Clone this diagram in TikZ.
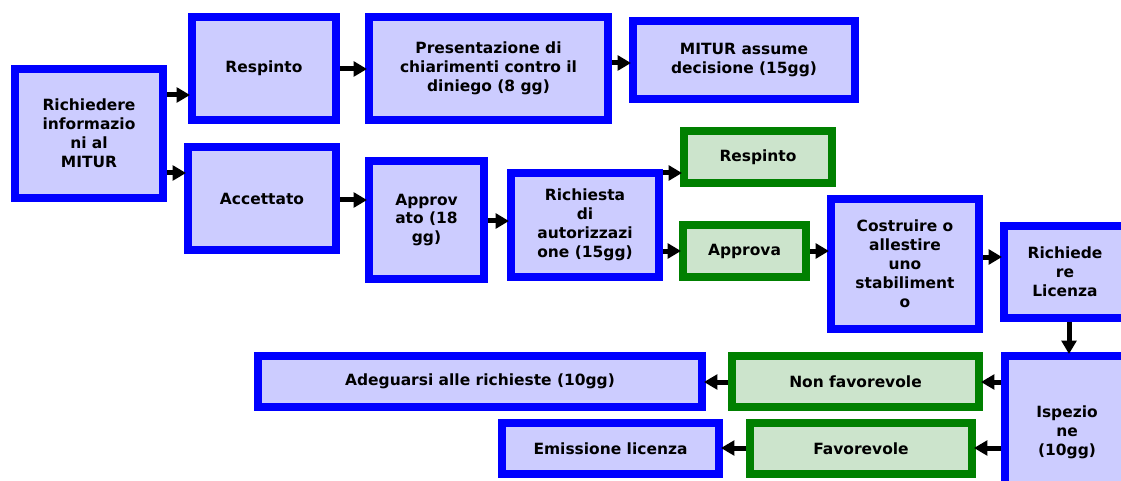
\documentclass[tikz,border=0pt]{standalone}
\usepackage{fontspec}
\setmainfont{DejaVu Sans}
\usetikzlibrary{arrows.meta}
\definecolor{bluefill}{HTML}{CCCCFF}
\definecolor{blueline}{HTML}{0000FF}
\definecolor{greenfill}{HTML}{CCE4CC}
\definecolor{greenline}{HTML}{008000}
\tikzset{
  bluebox/.style={draw=blueline, fill=bluefill, line width=6pt, inner sep=0pt, align=center,
    font=\fontsize{11.6}{14.2}\selectfont\bfseries},
  greenbox/.style={draw=greenline, fill=greenfill, line width=6pt, inner sep=0pt, align=center,
    font=\fontsize{11.6}{14.2}\selectfont\bfseries},
  arr/.style={line width=3.75pt, -{Triangle[length=10pt,width=11pt]}, black, shorten >=-1.5pt}
}
\newcommand\bx[7]{\node[#1, minimum width={(#5-#3-8)*0.75pt}, minimum height={(#6-#4-8)*0.75pt}] (#2) at ({(#3+#5)/2},{(#4+#6)/2}) {#7};}
\begin{document}
\begin{tikzpicture}[x=0.75pt,y=-0.75pt]
\useasboundingbox (0,0) rectangle (1121,481);
\bx{bluebox}{R}{11}{65}{167}{202}{Richiedere\\informazio\\ni al\\MITUR}
\bx{bluebox}{Rsp}{188}{13}{340}{124}{Respinto}
\bx{bluebox}{Pres}{365}{13}{612}{124}{Presentazione di\\chiarimenti contro il\\diniego (8 gg)}
\bx{bluebox}{Mit}{629}{17}{859}{103}{MITUR assume\\decisione (15gg)}
\bx{bluebox}{Acc}{184}{143}{340}{254}{Accettato}
\bx{bluebox}{Appr}{365}{157}{488}{283}{Approv\\ato (18\\gg)}
\bx{bluebox}{Rich}{507}{169}{663}{281}{Richiesta\\di\\autorizzazi\\one (15gg)}
\bx{greenbox}{RspG}{680}{127}{836}{187}{Respinto}
\bx{greenbox}{ApG}{679}{221}{810}{281}{Approva}
\bx{bluebox}{Cost}{827}{195}{983}{333}{Costruire o\\allestire\\uno\\stabiliment\\o}
\bx{bluebox}{Lic}{1000}{222}{1130}{322}{Richiede\\re\\Licenza}
\bx{bluebox}{Isp}{1001}{352}{1133}{512}{Ispezio\\ne\\(10gg)}
\bx{greenbox}{NonF}{728}{352}{983}{411}{Non favorevole}
\bx{bluebox}{Adeg}{254}{352}{706}{411}{Adeguarsi alle richieste (10gg)}
\bx{bluebox}{Emis}{498}{419}{723}{478}{Emissione licenza}
\bx{greenbox}{Fav}{746}{419}{976}{478}{Favorevole}
% connectors
\draw[arr] (R.east |- 0,95) -- (Rsp.west |- 0,95);
\draw[arr] (R.east |- 0,173) -- (Acc.west |- 0,173);
\draw[arr] (Rsp.east |- 0,69) -- (Pres.west |- 0,69);
\draw[arr] (Pres.east |- 0,63) -- (Mit.west |- 0,63);
\draw[arr] (Acc.east |- 0,200) -- (Appr.west |- 0,200);
\draw[arr] (Appr.east |- 0,221) -- (Rich.west |- 0,221);
\draw[arr] (Rich.east |- 0,173) -- (RspG.west |- 0,173);
\draw[arr] (Rich.east |- 0,251) -- (ApG.west |- 0,251);
\draw[arr] (ApG.east |- 0,251) -- (Cost.west |- 0,251);
\draw[arr] (Cost.east |- 0,257) -- (Lic.west |- 0,257);
\draw[arr] (Lic.south -| 1069,0) -- (Isp.north -| 1069,0);
\draw[arr] (Isp.west |- 0,382) -- (NonF.east |- 0,382);
\draw[arr] (Isp.west |- 0,448) -- (Fav.east |- 0,448);
\draw[arr] (NonF.west |- 0,382) -- (Adeg.east |- 0,382);
\draw[arr] (Fav.west |- 0,448) -- (Emis.east |- 0,448);
\end{tikzpicture}
\end{document}
